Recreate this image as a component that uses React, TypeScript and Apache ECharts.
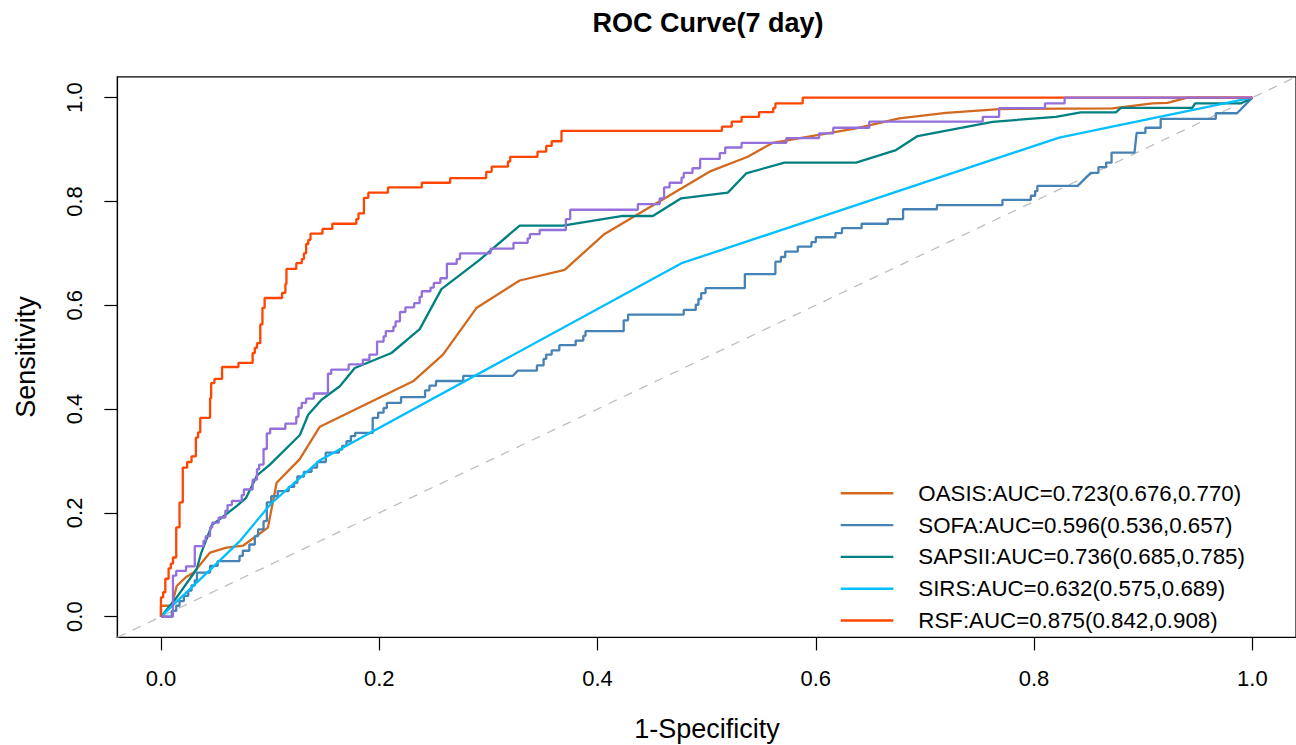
import React, { useEffect, useRef } from "react";
import * as echarts from "echarts";

const FONT = "'Liberation Sans', Arial, Helvetica, sans-serif";

const TITLE = "ROC Curve(7 day)";
const X_TITLE = "1-Specificity";
const Y_TITLE = "Sensitivity";
const TICKS = [0, 0.2, 0.4, 0.6, 0.8, 1.0];

const NAMES = [
  "OASIS:AUC=0.723(0.676,0.770)",
  "SOFA:AUC=0.596(0.536,0.657)",
  "SAPSII:AUC=0.736(0.685,0.785)",
  "SIRS:AUC=0.632(0.575,0.689)",
  "RSF:AUC=0.875(0.842,0.908)",
];
const COLORS = ["#D2691E", "#4682B4", "#008080", "#00BFFF", "#FF4500"];
const EXTRA_COLOR = "#9370DB";

// OASIS (polyline)
const OASIS = [
  [0, 0], [0, 0.021], [0.010, 0.021], [0.0144, 0.059], [0.0235, 0.077], [0.030, 0.085],
  [0.045, 0.1235], [0.060, 0.133], [0.0754, 0.137], [0.098, 0.1715], [0.106, 0.258],
  [0.127, 0.303], [0.1456, 0.366], [0.231, 0.4535], [0.2584, 0.5048], [0.289, 0.5946],
  [0.3287, 0.6477], [0.3699, 0.6683], [0.4065, 0.7375], [0.5026, 0.8574], [0.5377, 0.8862],
  [0.5606, 0.9131], [0.6369, 0.9407], [0.6765, 0.96], [0.7193, 0.9708], [0.7681, 0.978],
  [0.8718, 0.9794], [0.9085, 0.9888], [0.9222, 0.99], [0.9405, 1], [1, 1],
];

// SOFA (staircase with a few tied diagonals)
const SOFA = [
  [0, 0], [0.010, 0], [0.010, 0.011], [0.014, 0.011], [0.014, 0.021], [0.017, 0.021],
  [0.017, 0.030], [0.021, 0.030], [0.021, 0.040], [0.025, 0.040], [0.025, 0.050],
  [0.028, 0.050], [0.028, 0.060], [0.031, 0.060], [0.031, 0.070], [0.033, 0.070],
  [0.033, 0.085], [0.045, 0.085], [0.045, 0.098], [0.052, 0.098], [0.052, 0.107],
  [0.072, 0.107], [0.072, 0.117], [0.075, 0.117], [0.075, 0.127], [0.081, 0.127],
  [0.081, 0.139], [0.086, 0.139], [0.086, 0.155], [0.089, 0.155], [0.089, 0.168],
  [0.094, 0.168], [0.094, 0.184], [0.097, 0.184], [0.097, 0.220], [0.101, 0.220],
  [0.101, 0.232], [0.107, 0.232], [0.107, 0.242], [0.117, 0.242], [0.117, 0.250],
  [0.122, 0.250], [0.122, 0.258], [0.125, 0.258], [0.125, 0.270], [0.131, 0.270],
  [0.131, 0.279], [0.138, 0.279], [0.138, 0.287], [0.143, 0.287], [0.143, 0.298],
  [0.151, 0.298], [0.151, 0.316], [0.163, 0.316], [0.163, 0.322], [0.166, 0.322],
  [0.166, 0.329], [0.170, 0.329], [0.170, 0.338], [0.174, 0.338], [0.174, 0.348],
  [0.178, 0.348], [0.178, 0.354], [0.194, 0.354], [0.194, 0.383], [0.199, 0.383],
  [0.199, 0.393], [0.204, 0.393], [0.204, 0.402], [0.207, 0.402], [0.207, 0.412],
  [0.220, 0.412], [0.220, 0.423], [0.242, 0.423], [0.242, 0.436], [0.246, 0.436],
  [0.246, 0.445], [0.252, 0.445], [0.252, 0.454], [0.277, 0.454], [0.277, 0.464],
  [0.3225, 0.464], [0.327, 0.474], [0.3445, 0.474], [0.3445, 0.484], [0.3506, 0.484],
  [0.3506, 0.4965], [0.353, 0.4965], [0.353, 0.505], [0.358, 0.505], [0.358, 0.513],
  [0.365, 0.513], [0.365, 0.523], [0.380, 0.523], [0.380, 0.532], [0.387, 0.532],
  [0.387, 0.541], [0.389, 0.541], [0.389, 0.550], [0.424, 0.550], [0.424, 0.571],
  [0.428, 0.571], [0.428, 0.582], [0.479, 0.582], [0.479, 0.591], [0.490, 0.591],
  [0.490, 0.601], [0.4925, 0.601], [0.4925, 0.612], [0.495, 0.612], [0.495, 0.6235],
  [0.499, 0.6235], [0.499, 0.633], [0.535, 0.633], [0.535, 0.660], [0.563, 0.660],
  [0.563, 0.684], [0.568, 0.684], [0.568, 0.693], [0.572, 0.693], [0.572, 0.7035],
  [0.5835, 0.7035], [0.5835, 0.713], [0.596, 0.713], [0.596, 0.7215], [0.600, 0.7215],
  [0.600, 0.731], [0.618, 0.731], [0.618, 0.739], [0.624, 0.739], [0.624, 0.7485],
  [0.642, 0.7485], [0.642, 0.757], [0.666, 0.757], [0.666, 0.766], [0.680, 0.766],
  [0.680, 0.785], [0.711, 0.785], [0.711, 0.793], [0.771, 0.793], [0.771, 0.803],
  [0.797, 0.803], [0.797, 0.811], [0.801, 0.811], [0.801, 0.820], [0.803, 0.820],
  [0.803, 0.830], [0.840, 0.830], [0.852, 0.855], [0.859, 0.855], [0.859, 0.866],
  [0.866, 0.866], [0.866, 0.875], [0.871, 0.875], [0.871, 0.894], [0.892, 0.894],
  [0.894, 0.932], [0.902, 0.932], [0.902, 0.942], [0.916, 0.942], [0.916, 0.959],
  [0.9665, 0.959], [0.9665, 0.970], [0.986, 0.970], [1, 1],
];

// SAPSII (polyline)
const SAPSII = [
  [0, 0], [0.002, 0.005], [0.0144, 0.037], [0.0327, 0.0913], [0.037, 0.1235],
  [0.0468, 0.177], [0.054, 0.188], [0.0693, 0.213], [0.078, 0.229], [0.088, 0.272],
  [0.0998, 0.293], [0.1273, 0.35], [0.1349, 0.389], [0.1471, 0.418], [0.1639, 0.444],
  [0.1776, 0.479], [0.2112, 0.508], [0.2371, 0.554], [0.257, 0.631], [0.292, 0.6875],
  [0.3287, 0.7535], [0.3683, 0.7535], [0.4232, 0.772], [0.4507, 0.772], [0.4767, 0.806],
  [0.5194, 0.817], [0.5362, 0.854], [0.5713, 0.875], [0.6369, 0.875], [0.6735, 0.899],
  [0.6933, 0.926], [0.762, 0.9535], [0.82, 0.963], [0.8429, 0.9715], [0.875, 0.9715],
  [0.8795, 0.9804], [0.945, 0.9804], [0.9475, 0.9888], [0.9894, 0.9888], [1, 1],
];

// SIRS (polyline)
const SIRS = [
  [0, 0], [0.045, 0.09], [0.072, 0.145], [0.101, 0.218], [0.146, 0.302],
  [0.477, 0.681], [0.823, 0.923], [1, 1],
];

// RSF (step knots, horizontal then vertical)
const RSF = [
  [0, 0], [0, 0.037], [0.002, 0.047], [0.004, 0.073], [0.007, 0.093], [0.009, 0.102],
  [0.011, 0.114], [0.014, 0.172], [0.017, 0.220], [0.020, 0.287], [0.024, 0.298],
  [0.028, 0.309], [0.032, 0.345], [0.034, 0.355], [0.036, 0.383], [0.045, 0.421],
  [0.046, 0.450], [0.049, 0.458], [0.056, 0.481], [0.071, 0.489], [0.084, 0.508],
  [0.086, 0.518], [0.088, 0.527], [0.091, 0.563], [0.093, 0.595], [0.095, 0.614],
  [0.111, 0.624], [0.114, 0.641], [0.115, 0.670], [0.124, 0.681], [0.129, 0.689],
  [0.131, 0.700], [0.133, 0.718], [0.135, 0.726], [0.137, 0.738], [0.148, 0.747],
  [0.157, 0.757], [0.179, 0.766], [0.181, 0.777], [0.186, 0.807], [0.190, 0.817],
  [0.208, 0.827], [0.239, 0.836], [0.265, 0.845], [0.298, 0.857], [0.303, 0.867],
  [0.318, 0.877], [0.320, 0.886], [0.345, 0.896], [0.353, 0.907], [0.358, 0.916],
  [0.367, 0.936], [0.514, 0.944], [0.523, 0.954], [0.532, 0.963], [0.548, 0.972],
  [0.561, 0.980], [0.563, 0.989], [0.588, 1.0], [1, 1],
];

// Unlabelled purple curve (step knots)
const EXTRA = [
  [0, 0], [0.011, 0.079], [0.014, 0.088], [0.023, 0.097], [0.031, 0.136], [0.039, 0.146],
  [0.041, 0.155], [0.045, 0.172], [0.047, 0.181], [0.053, 0.191], [0.059, 0.204],
  [0.061, 0.215], [0.065, 0.223], [0.074, 0.234], [0.076, 0.245], [0.084, 0.264],
  [0.088, 0.284], [0.090, 0.293], [0.094, 0.323], [0.097, 0.353], [0.100, 0.362],
  [0.114, 0.372], [0.124, 0.385], [0.126, 0.402], [0.129, 0.412], [0.133, 0.420],
  [0.140, 0.430], [0.153, 0.468], [0.156, 0.476], [0.172, 0.486], [0.185, 0.495],
  [0.191, 0.505], [0.198, 0.530], [0.204, 0.540], [0.206, 0.550], [0.213, 0.559],
  [0.215, 0.569], [0.219, 0.587], [0.224, 0.596], [0.232, 0.604], [0.237, 0.616],
  [0.239, 0.627], [0.247, 0.634], [0.250, 0.643], [0.256, 0.652], [0.262, 0.680],
  [0.271, 0.689], [0.274, 0.700], [0.302, 0.709], [0.323, 0.720], [0.336, 0.729],
  [0.338, 0.737], [0.347, 0.745], [0.371, 0.766], [0.375, 0.784], [0.437, 0.795],
  [0.457, 0.806], [0.461, 0.827], [0.466, 0.836], [0.477, 0.846], [0.479, 0.855],
  [0.487, 0.864], [0.494, 0.882], [0.512, 0.893], [0.517, 0.904], [0.532, 0.913],
  [0.573, 0.922], [0.603, 0.931], [0.616, 0.942], [0.649, 0.954], [0.753, 0.963],
  [0.768, 0.980], [0.810, 0.989], [0.828, 1.0], [1, 1],
];

const DIAGONAL = [[-0.04, -0.04], [1.04, 1.04]];

export default function App() {
  const ref = useRef<HTMLDivElement>(null);
  useEffect(() => {
    if (!ref.current) return;
    const chart = echarts.init(ref.current, null, { renderer: "svg" });
    const lw = 2.3;
    const mk = (name: string, data: number[][], color: string, step?: string) => ({
      type: "line",
      name,
      data,
      step: step || false,
      symbol: "none",
      showSymbol: false,
      lineStyle: { color, width: lw },
      itemStyle: { color },
      emphasis: { disabled: true },
      silent: true,
    });
    const axisCommon = {
      type: "value",
      min: -0.04,
      max: 1.04,
      splitLine: { show: false },
      axisLine: { show: true, onZero: false, lineStyle: { color: "#000", width: 1.2 } },
      axisTick: { show: true, length: 13, customValues: TICKS, lineStyle: { color: "#000", width: 1.2 } },
    };
    chart.setOption({
      animation: false,
      backgroundColor: "#fff",
      grid: {
        left: 117.3,
        top: 76.9,
        width: 1179.7,
        height: 560.5,
        show: true,
        borderColor: "#000",
        borderWidth: 1.2,
        backgroundColor: "transparent",
        containLabel: false,
      },
      xAxis: {
        ...axisCommon,
        axisLabel: {
          customValues: TICKS,
          formatter: (v: number) => v.toFixed(1),
          fontSize: 22,
          fontFamily: FONT,
          color: "#000",
          margin: 30,
        },
      },
      yAxis: {
        ...axisCommon,
        axisLabel: {
          customValues: TICKS,
          formatter: (v: number) => v.toFixed(1),
          fontSize: 22,
          fontFamily: FONT,
          color: "#000",
          margin: 32,
          rotate: 90,
        },
      },
      legend: {
        data: NAMES,
        orient: "vertical",
        left: 840.7,
        top: 482.3,
        padding: 0,
        icon: "rect",
        itemWidth: 52.6,
        itemHeight: 2.4,
        itemGap: 9.8,
        selectedMode: false,
        textStyle: {
          fontSize: 22.3,
          fontFamily: FONT,
          color: "#000",
          lineHeight: 22,
          padding: [0, 0, 0, 20],
        },
      },
      graphic: [
        {
          type: "text",
          x: 708,
          y: 23,
          style: {
            text: TITLE,
            align: "center",
            verticalAlign: "middle",
            fontSize: 27,
            fontWeight: "bold",
            fontFamily: FONT,
            fill: "#000",
          },
        },
        {
          type: "text",
          x: 707,
          y: 729,
          style: {
            text: X_TITLE,
            align: "center",
            verticalAlign: "middle",
            fontSize: 27,
            fontFamily: FONT,
            fill: "#000",
          },
        },
        {
          type: "text",
          x: 26,
          y: 357,
          rotation: Math.PI / 2,
          style: {
            text: Y_TITLE,
            align: "center",
            verticalAlign: "middle",
            fontSize: 27,
            fontFamily: FONT,
            fill: "#000",
          },
        },
      ],
      series: [
        {
          type: "line",
          data: DIAGONAL,
          symbol: "none",
          silent: true,
          lineStyle: { color: "#BEBEBE", width: 1.3, type: [9, 8] },
          z: 1,
        },
        mk(NAMES[0], OASIS, COLORS[0]),
        mk(NAMES[1], SOFA, COLORS[1]),
        mk(NAMES[2], SAPSII, COLORS[2]),
        mk(NAMES[3], SIRS, COLORS[3]),
        mk(NAMES[4], RSF, COLORS[4], "end"),
        mk("extra", EXTRA, EXTRA_COLOR, "end"),
      ],
    });
    return () => chart.dispose();
  }, []);
  return (
    <div
      ref={ref}
      style={{ position: "absolute", left: 0, top: 0, width: 1296, height: 745 }}
    />
  );
}
